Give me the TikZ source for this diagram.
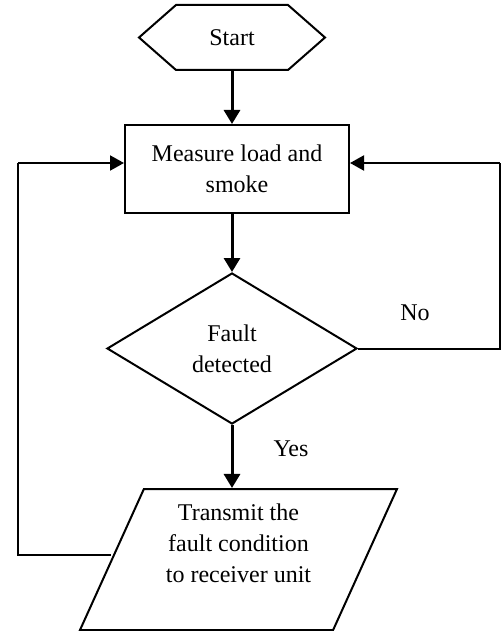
\documentclass[tikz,border=0pt]{standalone}
\usepackage{fontspec}
\setmainfont{Liberation Serif}
\usetikzlibrary{shapes.geometric,arrows.meta}
\begin{document}
\begin{tikzpicture}[x=0.5pt, y=-0.5pt,
        font=\fontsize{12}{15.5}\selectfont,
        base/.style={align=center,inner sep=0pt,line width=1pt,black},
        terminal/.style={base,minimum width=92pt,minimum height=31.5pt},
        process/.style={base,rectangle,draw,minimum width=112pt,minimum height=44pt},
        decision/.style={base,diamond,draw,minimum width=125pt,minimum height=75.5pt},
        io/.style={base,trapezium,draw,trapezium left angle=60,
          trapezium right angle=120,trapezium stretches body=true,
          minimum width=158.5pt,minimum height=70.5pt,text depth=16pt},
        flow/.style={line width=1.5pt,-{Triangle[length=7pt,width=8pt]}},
        feedback/.style={line width=1pt},
        feedbackarrow/.style={feedback,-{Triangle[length=7pt,width=7.5pt]}}]
        \useasboundingbox (0,0) rectangle (501,631);

        \node [terminal] (start) at (232, 37.5)    {Start};
        \node [process]  (meas)  at (237, 169)     {Measure load and\\smoke};
        \node [decision] (dec)   at (232, 348.5)   {Fault\\detected};
        \node [io]       (para)  at (238.5, 559.5) {Transmit the\\fault condition\\to receiver unit};

        % hexagon round the start node
        \draw [line width=1pt] (start.west) -- ([xshift=18.5pt]start.north west)
          -- ([xshift=-18.5pt]start.north east) -- (start.east)
          -- ([xshift=-18.5pt]start.south east) -- ([xshift=18.5pt]start.south west) -- cycle;

        \coordinate (fbr) at (500, 163);
        \coordinate (fbl) at (18, 163);

        \draw [flow] (start.south) -- (start.south |- meas.north);
        \draw [flow] (meas.south -| dec.north) -- (dec.north);
        \draw [flow] (dec.south) -- (dec.south |- para.north);

        \draw [feedback] (dec.east) -| (fbr);
        \draw [feedbackarrow] (fbr) -- (fbr -| meas.east);
        \draw [feedback] ([yshift=2.5pt]para.west) -| (fbl);
        \draw [feedbackarrow] (fbl) -- (fbl -| meas.west);

        \node (no)  at (415, 313) {No};
        \node (yes) at (291, 449) {Yes};
\end{tikzpicture}
\end{document}
